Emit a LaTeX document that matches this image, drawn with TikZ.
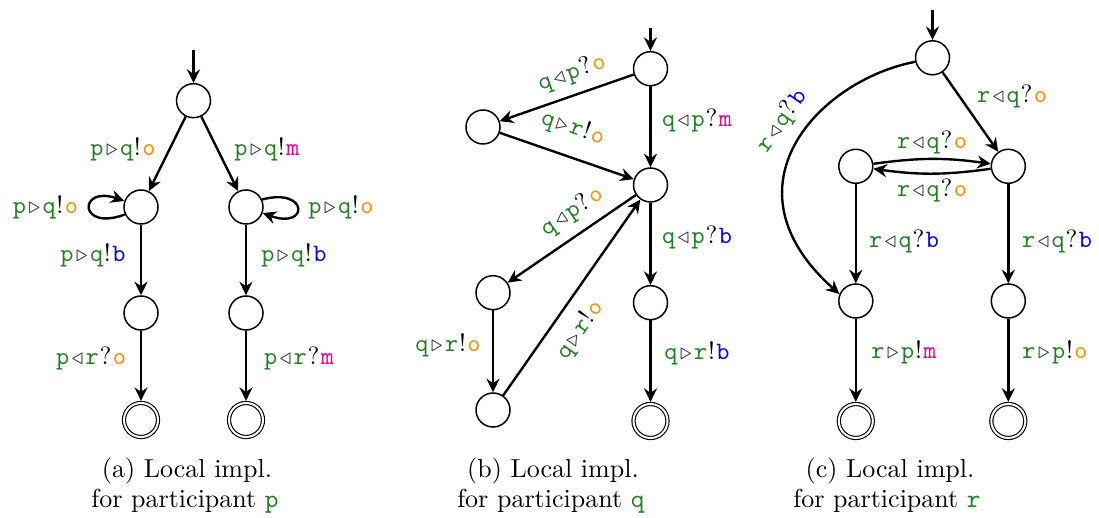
\documentclass[tikz,border=0pt]{standalone}
\usetikzlibrary{arrows.meta}
\definecolor{grn}{RGB}{34,128,34}
\definecolor{co}{RGB}{255,140,0}
\definecolor{cm}{RGB}{230,0,140}
\definecolor{cb}{RGB}{0,0,255}
\newcommand\mysnd{\kern1pt\textcolor{black!80}{\fontsize{9.5}{10}\selectfont$\triangleright$}\kern1pt}
\newcommand\myrcv{\kern1pt\textcolor{black!80}{\fontsize{9.5}{10}\selectfont$\triangleleft$}\kern1pt}
\newcommand\myex{\kern0.3pt\textrm{!}\kern0.6pt}
\newcommand\myqu{\kern0.3pt\textrm{?}\kern0.6pt}
\newcommand\lab[5]{\texttt{\textcolor{grn}{#1}#2\textcolor{grn}{#3}#4\textcolor{c#5}{#5}}}
\begin{document}
\begin{tikzpicture}[x=0.4pt,y=-0.4pt,
 st/.style={circle,draw,line width=0.6pt,minimum size=13.6pt,inner sep=0pt},
 acc/.style={circle,draw,line width=0.45pt,double,double distance=0.8pt,minimum size=13.6pt,inner sep=0pt,outer sep=0.85pt},
 arr/.style={line width=0.95pt,-{Stealth[length=5.4pt,width=5.2pt,inset=1.8pt]}},
 el/.style={inner sep=0pt,font=\fontsize{10}{12}\selectfont},
 captxt/.style={anchor=base,inner sep=0pt,font=\fontsize{10.4}{12}\selectfont}]
\useasboundingbox (0,0) rectangle (1099,518);

% ---------- (a) ----------
\node[st] (A0) at (193.5,100.7) {};
\node[st] (A1) at (141,207) {};
\node[st] (A2) at (246,207) {};
\node[st] (A3) at (141,313) {};
\node[st] (A4) at (246,313) {};
\node[acc] (A5) at (141,420) {};
\node[acc] (A6) at (246,420) {};
\coordinate (Ai) at (193.5,50);
\draw[arr] (Ai) -- (A0);
\draw[arr] (A0) -- (A1);
\draw[arr] (A0) -- (A2);
\draw[arr] (A1.205) .. controls (78,232) and (78,185) .. (A1.160);
\draw[arr] (A2.25) .. controls (309,187) and (309,230) .. (A2.-20);
\draw[arr] (A1) -- (A3);
\draw[arr] (A2) -- (A4);
\draw[arr] (A3) -- (A5);
\draw[arr] (A4) -- (A6);
\node[el] (la1) at (123,149) {\lab{p}{\mysnd}{q}{\myex}{o}};
\node[el] (la2) at (267,149) {\lab{p}{\mysnd}{q}{\myex}{m}};
\node[el] (la3) at (45.5,207) {\lab{p}{\mysnd}{q}{\myex}{o}};
\node[el] (la4) at (341,207) {\lab{p}{\mysnd}{q}{\myex}{o}};
\node[el] (la5) at (93,255) {\lab{p}{\mysnd}{q}{\myex}{b}};
\node[el] (la6) at (294,255) {\lab{p}{\mysnd}{q}{\myex}{b}};
\node[el] (la7) at (91,358) {\lab{p}{\myrcv}{r}{\myqu}{o}};
\node[el] (la8) at (299,358) {\lab{p}{\myrcv}{r}{\myqu}{m}};
\node[captxt] (ca1) at (187,478) {(a) Local impl.};
\node[captxt] (ca2) at (185,507) {for participant \textcolor{grn}{\texttt{p}}};

% ---------- (b) ----------
\node[st] (B0) at (650.5,68.7) {};
\node[st] (B1) at (483,127) {};
\node[st] (B2) at (650.5,185) {};
\node[st] (B3) at (493,292.7) {};
\node[st] (B4) at (650.5,302.7) {};
\node[st] (B5) at (493,410) {};
\node[acc] (B6) at (650.5,421) {};
\coordinate (Bi) at (650.5,28);
\draw[arr] (Bi) -- (B0);
\draw[arr] (B0) -- (B1);
\draw[arr] (B1) -- (B2);
\draw[arr] (B0) -- (B2);
\draw[arr] (B2) -- (B3);
\draw[arr] (B2) -- (B4);
\draw[arr] (B3) -- (B5);
\draw[arr] (B5) -- (B2);
\draw[arr] (B4) -- (B6);
\node[el,rotate=19] (lb1) at (572,73) {\lab{q}{\myrcv}{p}{\myqu}{o}};
\node[el,rotate=-19] (lb2) at (573,128) {\lab{q}{\mysnd}{r}{\myex}{o}};
\node[el] (lb3) at (697,120) {\lab{q}{\myrcv}{p}{\myqu}{m}};
\node[el,rotate=34] (lb4) at (572,212) {\lab{q}{\myrcv}{p}{\myqu}{o}};
\node[el] (lb5) at (697,237) {\lab{q}{\myrcv}{p}{\myqu}{b}};
\node[el] (lb6) at (448,345) {\lab{q}{\mysnd}{r}{\myex}{o}};
\node[el,rotate=55] (lb7) at (580,330) {\lab{q}{\mysnd}{r}{\myex}{o}};
\node[el] (lb8) at (697,353) {\lab{q}{\mysnd}{r}{\myex}{b}};
\node[captxt] (cb1) at (553,478) {(b) Local impl.};
\node[captxt] (cb2) at (551,507) {for participant \textcolor{grn}{\texttt{q}}};

% ---------- (c) ----------
\node[st] (C0) at (932.5,57.8) {};
\node[st] (C1) at (855.8,166.3) {};
\node[st] (C2) at (1008.3,166.3) {};
\node[st] (C3) at (855.8,301) {};
\node[st] (C4) at (1008.3,301) {};
\node[acc] (C5) at (855.8,421) {};
\node[acc] (C6) at (1008.3,421) {};
\coordinate (Ci) at (932.5,10);
\draw[arr] (Ci) -- (C0);
\draw[arr] (C0) -- (C2);
\draw[arr] (C1) to[bend left=8] (C2);
\draw[arr] (C2) to[bend left=8] (C1);
\draw[arr] (C1) -- (C3);
\draw[arr] (C2) -- (C4);
\draw[arr] (C0.193) .. controls (820,80) and (718,186) .. (C3.157);
\draw[arr] (C3) -- (C5);
\draw[arr] (C4) -- (C6);
\node[el] (lc1) at (1012,96) {\lab{r}{\myrcv}{q}{\myqu}{o}};
\node[el] (lc2) at (932,142) {\lab{r}{\myrcv}{q}{\myqu}{o}};
\node[el] (lc3) at (932,190) {\lab{r}{\myrcv}{q}{\myqu}{o}};
\node[el] (lc4) at (904,241) {\lab{r}{\myrcv}{q}{\myqu}{b}};
\node[el] (lc5) at (1057,241) {\lab{r}{\myrcv}{q}{\myqu}{b}};
\node[el,rotate=55] (lc6) at (782,121) {\lab{r}{\myrcv}{q}{\myqu}{b}};
\node[el] (lc7) at (904,352) {\lab{r}{\mysnd}{p}{\myex}{m}};
\node[el] (lc8) at (1055,352) {\lab{r}{\mysnd}{p}{\myex}{o}};
\node[captxt] (cc1) at (890,478) {(c) Local impl.};
\node[captxt] (cc2) at (887,507) {for participant \textcolor{grn}{\texttt{r}}};
\end{tikzpicture}
\end{document}
